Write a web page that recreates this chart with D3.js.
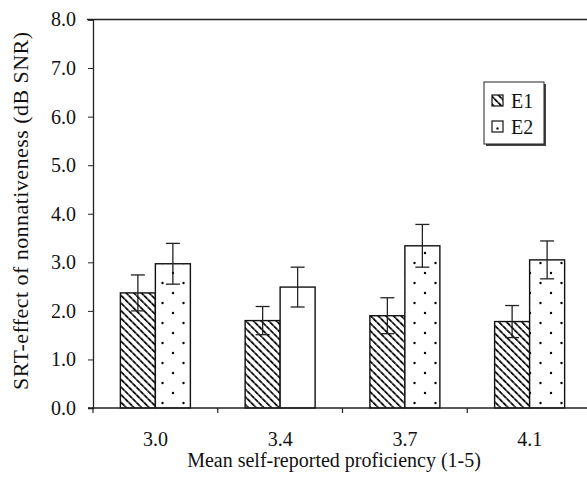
<!DOCTYPE html>
<html>
<head>
<meta charset="utf-8">
<script src="https://cdn.jsdelivr.net/npm/d3@7"></script>
<style>
  html, body { margin: 0; padding: 0; background: #fff; }
  svg { display: block; }
  svg text { font-family: "Liberation Serif", "Times New Roman", "DejaVu Serif", serif; fill: #111; }
</style>
</head>
<body>
<svg id="chart" width="587" height="483"></svg>
<script>
// Mean self-reported proficiency groups and SRT effect per experiment
const categories = ["3.0", "3.4", "3.7", "4.1"];
const seriesNames = ["E1", "E2"];
const e1Values = [2.37, 1.80, 1.90, 1.78];
const e2Values = [2.97, 2.49, 3.34, 3.05];
const e1Errors = [0.37, 0.29, 0.37, 0.33];
const e2Errors = [0.42, 0.41, 0.44, 0.39];
const yTicks = [0, 1, 2, 3, 4, 5, 6, 7, 8];

const svg = d3.select("#chart");
const W = 587, H = 483;
const x0 = 93, yBase = 408, yTop = 19.5;

const x = d3.scaleBand().domain(categories).range([x0, 592]).paddingInner(0).paddingOuter(0);
const xs = d3.scaleBand().domain(seriesNames).range([-35, 35]);
const y = d3.scaleLinear().domain([0, 8]).range([yBase, yTop]);

// fill patterns
const defs = svg.append("defs");
const hatch = defs.append("pattern")
  .attr("id", "hatch").attr("patternUnits", "userSpaceOnUse")
  .attr("width", 5.4).attr("height", 5.4)
  .attr("patternTransform", "rotate(-45)");
hatch.append("rect").attr("width", 5.4).attr("height", 5.4).attr("fill", "#fff");
hatch.append("line").attr("x1", 0).attr("y1", 0).attr("x2", 0).attr("y2", 5.4)
  .attr("stroke", "#000").attr("stroke-width", 3.4).attr("stroke-dasharray", "2.4 0.6");

const dots = defs.append("pattern")
  .attr("id", "dots").attr("patternUnits", "userSpaceOnUse")
  .attr("width", 21).attr("height", 20).attr("x", 0).attr("y", yBase);
dots.append("rect").attr("width", 21).attr("height", 20).attr("fill", "#fff");
dots.append("circle").attr("cx", 5).attr("cy", 5).attr("r", 1.2).attr("fill", "#000");
dots.append("circle").attr("cx", 15.5).attr("cy", 15).attr("r", 1.2).attr("fill", "#000");

const fills = { E1: "url(#hatch)", E2: "url(#dots)" };
const plainBars = new Set(["3.4|E2"]);

const rows = [];
categories.forEach((c, i) => {
  rows.push({ cat: c, s: "E1", v: e1Values[i], err: e1Errors[i] });
  rows.push({ cat: c, s: "E2", v: e2Values[i], err: e2Errors[i] });
});
const cx = d => x(d.cat) + x.bandwidth() / 2 + xs(d.s);

// top frame line
svg.append("line").attr("x1", 87).attr("x2", W).attr("y1", y(8)).attr("y2", y(8))
  .attr("stroke", "#222").attr("stroke-width", 1.6);

// bars
svg.append("g").selectAll("rect").data(rows).join("rect")
  .attr("x", d => cx(d))
  .attr("width", xs.bandwidth())
  .attr("y", d => y(d.v))
  .attr("height", d => yBase - y(d.v))
  .attr("fill", d => plainBars.has(d.cat + "|" + d.s) ? "#fff" : fills[d.s])
  .attr("stroke", "#111").attr("stroke-width", 1.4);

// error bars
const eg = svg.append("g").attr("stroke", "#222").attr("stroke-width", 1.3);
rows.forEach(d => {
  const mx = cx(d) + xs.bandwidth() / 2;
  eg.append("line").attr("x1", mx).attr("x2", mx).attr("y1", y(d.v + d.err)).attr("y2", y(d.v - d.err));
  [d.v + d.err, d.v - d.err].forEach(v => {
    eg.append("line").attr("x1", mx - 7).attr("x2", mx + 7).attr("y1", y(v)).attr("y2", y(v));
  });
});

// y axis
const yAxis = d3.axisLeft(y).tickValues(yTicks).tickFormat(d3.format(".1f")).tickSize(5).tickPadding(12);
const yg = svg.append("g").attr("transform", `translate(${x0},0)`).call(yAxis)
  .attr("font-family", null).attr("font-size", null);
yg.select(".domain").attr("stroke", "#222").attr("stroke-width", 1.3);
yg.selectAll(".tick line").attr("stroke", "#222");
yg.selectAll("text").attr("font-size", 20).attr("fill", "#111");

// x axis
svg.append("line").attr("x1", 88).attr("x2", W).attr("y1", yBase).attr("y2", yBase)
  .attr("stroke", "#222").attr("stroke-width", 1.6);
const bounds = categories.map(c => x(c)).concat([x(categories[categories.length - 1]) + x.bandwidth()]);
svg.append("g").selectAll("line").data(bounds).join("line")
  .attr("x1", d => d).attr("x2", d => d).attr("y1", yBase).attr("y2", yBase + 5)
  .attr("stroke", "#222").attr("stroke-width", 1.2);
svg.append("g").selectAll("text").data(categories).join("text")
  .attr("x", c => x(c) + x.bandwidth() / 2)
  .attr("y", 446).attr("text-anchor", "middle").attr("font-size", 20)
  .text(c => c);

// axis titles
svg.append("text").attr("x", 334).attr("y", 467).attr("text-anchor", "middle")
  .attr("font-size", 20).text("Mean self-reported proficiency (1-5)");
svg.append("text").attr("transform", "translate(28,211) rotate(-90)")
  .attr("text-anchor", "middle").attr("font-size", 22)
  .attr("textLength", 358).attr("lengthAdjust", "spacing")
  .text("SRT-effect of nonnativeness (dB SNR)");

// legend
const lg = svg.append("g").attr("transform", "translate(484,82)");
lg.append("rect").attr("x", 2).attr("y", 2).attr("width", 60).attr("height", 62).attr("fill", "#444");
lg.append("rect").attr("width", 60).attr("height", 62).attr("fill", "#fff").attr("stroke", "#222").attr("stroke-width", 1);
seriesNames.forEach((s, i) => {
  const gy = 19 + i * 26;
  lg.append("rect").attr("x", 8).attr("y", gy - 6).attr("width", 11).attr("height", 11)
    .attr("fill", s === "E1" ? "url(#hatch)" : "#fff").attr("stroke", "#111").attr("stroke-width", 1.2);
  if (s === "E2") lg.append("circle").attr("cx", 13.5).attr("cy", gy + 1.5).attr("r", 1.2).attr("fill", "#111");
  lg.append("text").attr("x", 27).attr("y", gy + 7).attr("font-size", 20).text(s);
});
</script>
</body>
</html>
